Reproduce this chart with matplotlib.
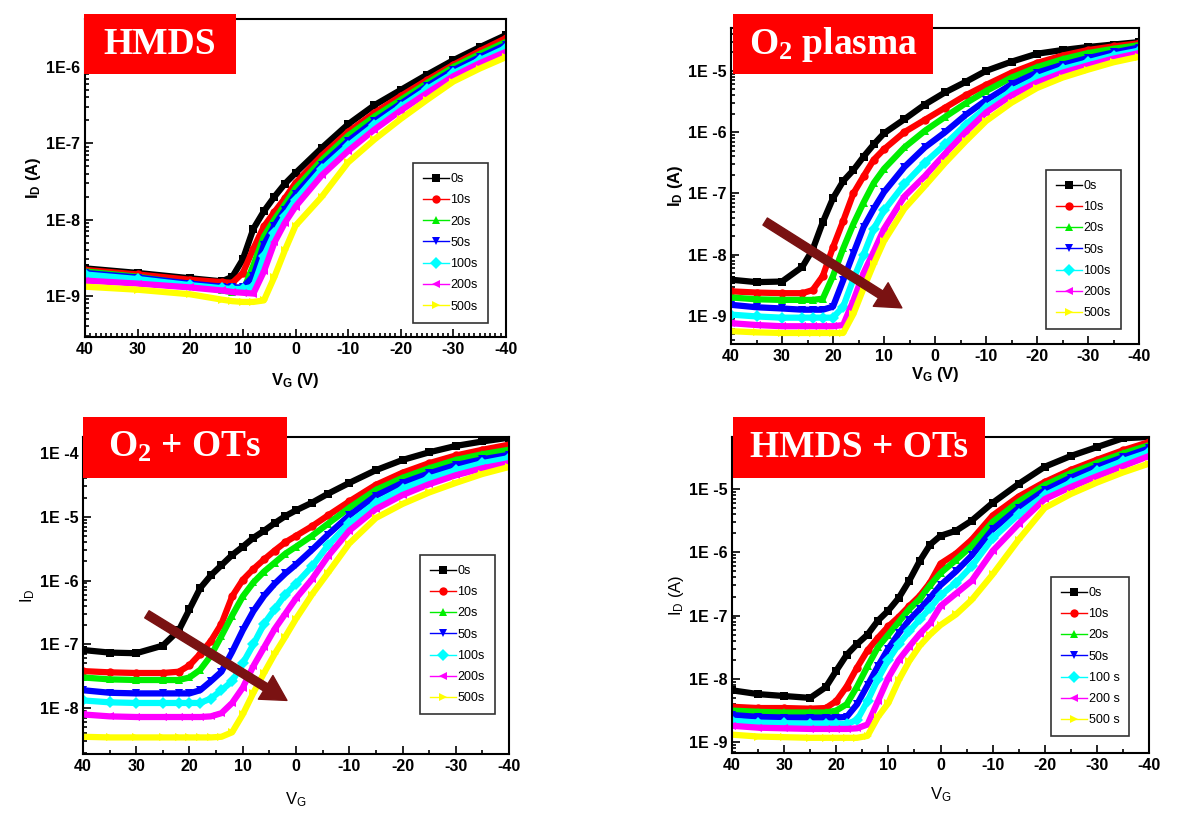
import numpy as np
import matplotlib
matplotlib.use("Agg")
import matplotlib.pyplot as plt
from matplotlib.lines import Line2D
from matplotlib.patches import Rectangle
from matplotlib.ticker import MultipleLocator, LogLocator, FuncFormatter, NullFormatter

plt.rcParams['font.family'] = ['Liberation Sans', 'DejaVu Sans']
plt.rcParams['axes.unicode_minus'] = False

# ---- series styling shared by all panels
labels = ["0s", "10s", "20s", "50s", "100s", "200s", "500s"]
labels_spaced = ["0s", "10s", "20s", "50s", "100 s", "200 s", "500 s"]
colors = ["#000000", "#ff0000", "#00ee00", "#0000ff", "#00ffff", "#ff00ff", "#ffff00"]
markers = ["s", "o", "^", "v", "D", "<", ">"]

# ---- HMDS  (values are log10 of I_D in A)
v_hmds = [40, 30, 20, 14, 12, 10, 8, 6, 4, 2, 0, -5, -10, -15, -20, -25, -30, -35, -40]
hmds_0s = [-8.64, -8.70, -8.77, -8.81, -8.75, -8.52, -8.12, -7.89, -7.70, -7.53, -7.39, -7.06, -6.75, -6.50, -6.30, -6.10, -5.91, -5.74, -5.58]
hmds_10s = [-8.66, -8.72, -8.79, -8.82, -8.83, -8.70, -8.38, -8.09, -7.90, -7.72, -7.52, -7.16, -6.85, -6.60, -6.38, -6.17, -5.97, -5.79, -5.62]
hmds_20s = [-8.68, -8.75, -8.85, -8.93, -8.95, -8.94, -8.60, -8.22, -8.00, -7.80, -7.59, -7.22, -6.90, -6.65, -6.43, -6.21, -6.00, -5.83, -5.67]
hmds_50s = [-8.70, -8.76, -8.84, -8.88, -8.89, -8.89, -8.74, -8.33, -8.08, -7.87, -7.67, -7.28, -6.97, -6.71, -6.48, -6.25, -6.04, -5.87, -5.71]
hmds_100s = [-8.72, -8.78, -8.86, -8.90, -8.91, -8.91, -8.88, -8.48, -8.18, -7.95, -7.74, -7.34, -7.03, -6.76, -6.52, -6.29, -6.08, -5.91, -5.75]
hmds_200s = [-8.80, -8.84, -8.89, -8.93, -8.95, -8.96, -8.97, -8.68, -8.30, -8.04, -7.83, -7.42, -7.10, -6.82, -6.57, -6.34, -6.12, -5.95, -5.80]
hmds_500s = [-8.88, -8.92, -8.98, -9.05, -9.07, -9.08, -9.08, -9.06, -8.75, -8.40, -8.08, -7.70, -7.25, -6.95, -6.68, -6.43, -6.19, -6.02, -5.87]

# ---- O2 plasma
v_o2 = [40, 35, 30, 26, 24, 22, 20, 18, 16, 14, 12, 10, 6, 2, -2, -6, -10, -15, -20, -25, -30, -35, -40]
o2_0s = [-8.41, -8.45, -8.44, -8.20, -7.92, -7.47, -7.08, -6.80, -6.62, -6.40, -6.20, -6.02, -5.79, -5.55, -5.35, -5.18, -5.00, -4.85, -4.72, -4.66, -4.61, -4.57, -4.53]
o2_10s = [-8.60, -8.62, -8.63, -8.63, -8.58, -8.35, -7.88, -7.45, -7.00, -6.72, -6.45, -6.28, -6.00, -5.80, -5.60, -5.40, -5.23, -5.03, -4.87, -4.75, -4.66, -4.60, -4.55]
o2_20s = [-8.70, -8.73, -8.74, -8.74, -8.74, -8.72, -8.35, -7.90, -7.50, -7.15, -6.83, -6.60, -6.25, -5.98, -5.75, -5.53, -5.33, -5.11, -4.94, -4.81, -4.71, -4.64, -4.58]
o2_50s = [-8.82, -8.86, -8.88, -8.90, -8.90, -8.90, -8.85, -8.42, -7.98, -7.55, -7.25, -6.98, -6.57, -6.25, -6.00, -5.72, -5.48, -5.22, -5.03, -4.90, -4.79, -4.70, -4.62]
o2_100s = [-8.98, -9.01, -9.03, -9.03, -9.03, -9.03, -9.03, -8.85, -8.40, -8.00, -7.58, -7.28, -6.85, -6.50, -6.20, -5.88, -5.60, -5.33, -5.12, -4.97, -4.86, -4.75, -4.67]
o2_200s = [-9.12, -9.15, -9.17, -9.17, -9.17, -9.17, -9.17, -9.15, -8.75, -8.30, -7.95, -7.58, -7.05, -6.72, -6.35, -6.00, -5.68, -5.40, -5.19, -5.03, -4.91, -4.80, -4.71]
o2_500s = [-9.25, -9.27, -9.28, -9.28, -9.28, -9.28, -9.28, -9.28, -8.97, -8.55, -8.15, -7.78, -7.25, -6.88, -6.50, -6.15, -5.82, -5.52, -5.28, -5.11, -4.98, -4.86, -4.77]

# ---- O2 + OTs
v_o2ots = [40, 35, 30, 25, 22, 20, 18, 16, 14, 12, 10, 8, 6, 4, 2, 0, -3, -6, -10, -15, -20, -25, -30, -35, -40]
o2ots_0s = [-7.09, -7.13, -7.14, -7.02, -6.78, -6.45, -6.12, -5.92, -5.76, -5.60, -5.47, -5.33, -5.22, -5.10, -4.99, -4.90, -4.78, -4.64, -4.47, -4.27, -4.11, -3.99, -3.89, -3.82, -3.76]
o2ots_10s = [-7.42, -7.44, -7.45, -7.45, -7.43, -7.33, -7.15, -6.95, -6.68, -6.25, -5.99, -5.82, -5.67, -5.53, -5.40, -5.30, -5.15, -4.98, -4.76, -4.50, -4.31, -4.16, -4.04, -3.95, -3.87]
o2ots_20s = [-7.52, -7.55, -7.56, -7.56, -7.56, -7.52, -7.40, -7.18, -6.87, -6.55, -6.25, -6.03, -5.86, -5.72, -5.58, -5.47, -5.30, -5.11, -4.86, -4.58, -4.39, -4.24, -4.11, -4.02, -3.95]
o2ots_50s = [-7.72, -7.76, -7.77, -7.77, -7.77, -7.77, -7.72, -7.58, -7.43, -7.12, -6.78, -6.48, -6.24, -6.05, -5.89, -5.75, -5.52, -5.28, -4.98, -4.67, -4.47, -4.32, -4.19, -4.10, -4.03]
o2ots_100s = [-7.88, -7.91, -7.92, -7.92, -7.92, -7.92, -7.92, -7.85, -7.72, -7.58, -7.30, -7.00, -6.68, -6.45, -6.22, -6.05, -5.78, -5.45, -5.10, -4.78, -4.56, -4.40, -4.27, -4.16, -4.08]
o2ots_200s = [-8.10, -8.13, -8.14, -8.14, -8.14, -8.14, -8.14, -8.13, -8.08, -7.92, -7.68, -7.34, -7.05, -6.76, -6.52, -6.28, -5.98, -5.62, -5.22, -4.88, -4.66, -4.49, -4.35, -4.24, -4.16]
o2ots_500s = [-8.45, -8.46, -8.46, -8.46, -8.46, -8.46, -8.46, -8.46, -8.45, -8.38, -8.10, -7.76, -7.45, -7.15, -6.88, -6.60, -6.22, -5.88, -5.42, -5.02, -4.80, -4.62, -4.47, -4.33, -4.22]

# ---- HMDS + OTs
v_hots = [40, 35, 30, 25, 22, 20, 18, 16, 14, 12, 10, 8, 6, 4, 2, 0, -3, -6, -10, -15, -20, -25, -30, -35, -40]
hots_0s = [-8.18, -8.24, -8.27, -8.30, -8.13, -7.87, -7.62, -7.45, -7.30, -7.08, -6.92, -6.72, -6.45, -6.14, -5.88, -5.74, -5.66, -5.50, -5.22, -4.92, -4.65, -4.48, -4.34, -4.20, -4.18]
hots_10s = [-8.44, -8.46, -8.46, -8.47, -8.46, -8.35, -8.12, -7.82, -7.55, -7.35, -7.17, -7.02, -6.85, -6.69, -6.48, -6.18, -6.02, -5.80, -5.42, -5.12, -4.89, -4.70, -4.54, -4.39, -4.26]
hots_20s = [-8.50, -8.52, -8.53, -8.53, -8.53, -8.50, -8.40, -8.12, -7.80, -7.50, -7.30, -7.10, -6.90, -6.74, -6.52, -6.33, -6.12, -5.90, -5.52, -5.20, -4.94, -4.75, -4.59, -4.44, -4.31]
hots_50s = [-8.57, -8.60, -8.61, -8.61, -8.61, -8.61, -8.60, -8.40, -8.10, -7.80, -7.52, -7.28, -7.07, -6.90, -6.72, -6.52, -6.30, -6.05, -5.64, -5.30, -5.02, -4.82, -4.65, -4.50, -4.36]
hots_100s = [-8.66, -8.69, -8.70, -8.71, -8.71, -8.71, -8.71, -8.65, -8.35, -8.00, -7.70, -7.45, -7.25, -7.06, -6.88, -6.68, -6.48, -6.22, -5.78, -5.40, -5.10, -4.90, -4.72, -4.56, -4.42]
hots_200s = [-8.74, -8.77, -8.78, -8.79, -8.79, -8.79, -8.79, -8.78, -8.72, -8.35, -7.98, -7.70, -7.49, -7.29, -7.12, -6.85, -6.65, -6.45, -5.98, -5.55, -5.16, -4.97, -4.80, -4.64, -4.48]
hots_500s = [-8.88, -8.91, -8.92, -8.93, -8.93, -8.93, -8.93, -8.93, -8.90, -8.60, -8.38, -8.02, -7.72, -7.48, -7.30, -7.15, -6.98, -6.75, -6.35, -5.80, -5.30, -5.08, -4.90, -4.74, -4.60]

# arrows (V, log10 I): start -> end
arrow_o2 = [(33.3, -7.46), (6.5, -8.87)]
arrow_o2ots = [(28.0, -6.53), (1.7, -7.88)]

W, H = 1179, 813
fig = plt.figure(figsize=(W / 100, H / 100), dpi=100)


def px_axes(l, t, r, b):
    return [l / W, (H - b) / H, (r - l) / W, (b - t) / H]


def panel(rect, v, series, ylog, ylab, xlab, bold, ytick_fmt, leg_anchor, leg_labels,
          arrow=None, xminor=5, xpad=4):
    ax = fig.add_axes(px_axes(*rect))
    for s, c, m in zip(series, colors, markers):
        ax.plot(v, 10 ** np.array(s), color=c, lw=4.5, marker=m, ms=6,
                markeredgewidth=0, solid_joinstyle='round')
    ax.set_yscale('log')
    ax.set_xlim(40, -40)
    ax.set_ylim(10 ** ylog[0], 10 ** ylog[1])
    ax.xaxis.set_major_locator(MultipleLocator(10))
    ax.xaxis.set_minor_locator(MultipleLocator(xminor))
    ax.yaxis.set_major_locator(LogLocator(base=10, numticks=20))
    ax.yaxis.set_minor_locator(LogLocator(base=10, subs=np.arange(2, 10), numticks=20))
    ax.yaxis.set_minor_formatter(NullFormatter())
    ax.yaxis.set_major_formatter(FuncFormatter(
        lambda y, p: ytick_fmt % round(-np.log10(y))))
    ax.tick_params(which='both', direction='in', labelsize=11.5, width=1.2)
    ax.tick_params(which='major', length=6)
    ax.tick_params(which='minor', length=3)
    for lab in ax.get_xticklabels() + ax.get_yticklabels():
        lab.set_fontweight('bold')
    for sp in ax.spines.values():
        sp.set_linewidth(1.5)
    w = 'bold' if bold else 'normal'
    ax.set_ylabel(ylab, fontsize=12, fontweight=w, labelpad=2)
    ax.set_xlabel(xlab, fontsize=12, fontweight=w, labelpad=xpad)

    handles = [Line2D([], [], color=c, lw=1, marker=m, ms=6, markeredgewidth=0)
               for c, m in zip(colors, markers)]
    leg = ax.legend(handles, leg_labels, loc='upper left', bbox_to_anchor=leg_anchor,
                    borderaxespad=0, fontsize=9, labelspacing=0.74, handlelength=2.1,
                    handletextpad=0.1, borderpad=0.8, fancybox=False, frameon=True,
                    numpoints=1)
    leg.get_frame().set_edgecolor('black')
    leg.get_frame().set_linewidth(1.2)

    if arrow is not None:
        (x0, y0), (x1, y1) = arrow
        ax.annotate('', xy=(x1, 10 ** y1), xytext=(x0, 10 ** y0),
                    arrowprops=dict(arrowstyle='simple,head_length=0.9,head_width=1.0,tail_width=0.3',
                                    color='#7a1212', mutation_scale=20, shrinkA=0, shrinkB=0),
                    zorder=10)
    return ax


def title_box(l, t, r, b, text):
    fig.add_artist(Rectangle((l / W, (H - b) / H), (r - l) / W, (b - t) / H,
                             transform=fig.transFigure, facecolor='#ff0000',
                             edgecolor='none', zorder=20))
    fig.text((l + r) / 2 / W, (H - (t + b) / 2) / H, text, color='white',
             family='Liberation Serif', fontweight='bold', fontsize=27,
             ha='center', va='center', zorder=21)


panel((85, 19, 506, 337), v_hmds,
      [hmds_0s, hmds_10s, hmds_20s, hmds_50s, hmds_100s, hmds_200s, hmds_500s],
      (-9.54, -5.37), r'I$\mathregular{_D}$ (A)', r'V$\mathregular{_G}$ (V)', True,
      '1E-%d', (0.779, 0.547), labels, xminor=1, xpad=10)
panel((731, 28, 1139, 344), v_o2,
      [o2_0s, o2_10s, o2_20s, o2_50s, o2_100s, o2_200s, o2_500s],
      (-9.46, -4.30), r'I$\mathregular{_D}$ (A)', r'V$\mathregular{_G}$ (V)', True,
      '1E -%d', (0.772, 0.551), labels, arrow=arrow_o2, xpad=1)
panel((83, 437, 509, 754), v_o2ots,
      [o2ots_0s, o2ots_10s, o2ots_20s, o2ots_50s, o2ots_100s, o2ots_200s, o2ots_500s],
      (-8.72, -3.75), r'I$\mathregular{_D}$', r'V$\mathregular{_G}$', False,
      '1E -%d', (0.791, 0.628), labels, arrow=arrow_o2ots, xpad=12)
panel((732, 437, 1149, 753), v_hots,
      [hots_0s, hots_10s, hots_20s, hots_50s, hots_100s, hots_200s, hots_500s],
      (-9.17, -4.18), r'I$\mathregular{_D}$ (A)', r'V$\mathregular{_G}$', False,
      '1E -%d', (0.765, 0.557), labels_spaced, xpad=9)

title_box(84, 14, 236, 74, 'HMDS')
title_box(733, 14, 933, 74, r'O$\mathregular{_2}$ plasma')
title_box(83, 417, 287, 478, r'O$\mathregular{_2}$ + OTs')
title_box(733, 417, 985, 478, 'HMDS + OTs')

fig.savefig('out.png', dpi=100)
